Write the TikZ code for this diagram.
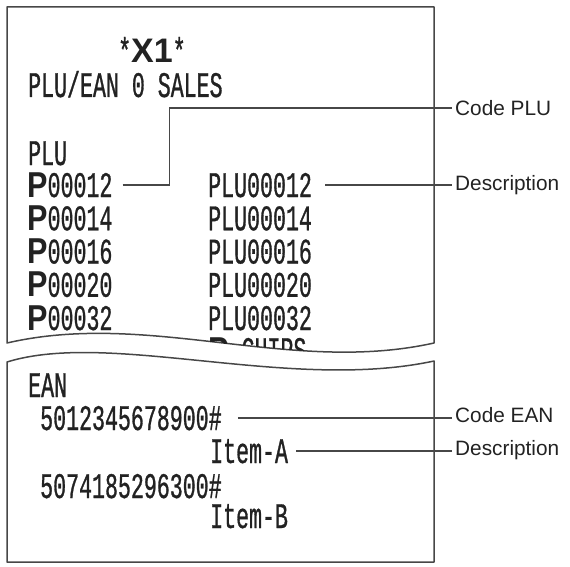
\documentclass[tikz,border=0pt]{standalone}
\usepackage{fontspec}
\setmainfont{Liberation Sans}
\newfontfamily\rcptfont[FakeStretch=0.6, FakeBold=0.8]{Liberation Mono}
\newfontfamily\heavyfont[FakeStretch=0.85]{Liberation Sans}
\newfontfamily\titlefont{Liberation Sans}
\usetikzlibrary{positioning, calc}
\definecolor{ink}{HTML}{222222}
\definecolor{edge}{HTML}{474747}

\begin{document}
\begin{tikzpicture}[x=1pt, y=-1pt,
    rcpt/.style={anchor=base west, inner sep=0pt, text height=24pt, text depth=0pt, text=ink, font=\rcptfont\fontsize{36}{40}\selectfont},
    paper/.style={draw=edge, line width=1.5pt, line join=round},
    lead/.style={draw=edge, line width=1.2pt},
    callout/.style={anchor=west, inner sep=3pt, text=ink, font=\fontsize{20.8}{24}\selectfont}]
    \useasboundingbox (0,0) rectangle (570,567);
    % upper slip, torn at the bottom
    \draw[paper] (7,343) -- (7,7) -- (434,7) -- (434,343)
        .. controls (290,375) and (150,310) .. (7,343) -- cycle;
    \node[rcpt] (title) at (118,63) {*{\titlefont\bfseries\fontsize{34}{36}\selectfont X1}*};
    \node[rcpt] (head) at (28,97) {PLU/EAN 0 SALES};
    \node[rcpt] (plu) at (28,165) {PLU};
    \foreach \n [count=\i] in {00012,00014,00016,00020,00032}{
        \node[rcpt] (code\i) at (27,197+\i*33.25-33.25) {{\heavyfont\bfseries P}\n};
        \node[rcpt] (desc\i) at (208,197+\i*33.25-33.25) {PLU\n};
    }
    \begin{scope}
        \clip (7,343) -- (7,7) -- (434,7) -- (434,343)
            .. controls (290,375) and (150,310) .. (7,343) -- cycle;
        \node[rcpt] (cut) at (208,362) {{\heavyfont\bfseries P}-CHIPS};
    \end{scope}
    % lower slip, torn at the top
    \draw[paper] (7,362) .. controls (110,330) and (290,392) .. (434,361)
        -- (434,562) -- (7,562) -- cycle;
    \node[rcpt] (ean) at (28,397) {EAN};
    \node[rcpt] (ean1) at (40,430) {5012345678900\#};
    \node[rcpt] (item1) at (210,463) {Item-A};
    \node[rcpt] (ean2) at (40,498) {5074185296300\#};
    \node[rcpt] (item2) at (210,528) {Item-B};
    % callouts
    \node[callout] (lblplu) at (452,108) {Code PLU};
    \node[callout] (lbldesc) at (452,185) {Description};
    \node[callout] (lblean) at (452,415) {Code EAN};
    \node[callout] (lblitem) at (452,450) {Description};
    \draw[lead] ([xshift=10pt]code1.east) -- ++(47,0) |- (lblplu.west);
    \draw[lead] ([xshift=13pt]desc1.east) -- (desc1.east -| lbldesc.west);
    \draw[lead] ([xshift=16pt]ean1.east) -- (ean1.east -| lblean.west);
    \draw[lead] ([xshift=8pt]item1.east) -- (item1.east -| lblitem.west);
\end{tikzpicture}
\end{document}
